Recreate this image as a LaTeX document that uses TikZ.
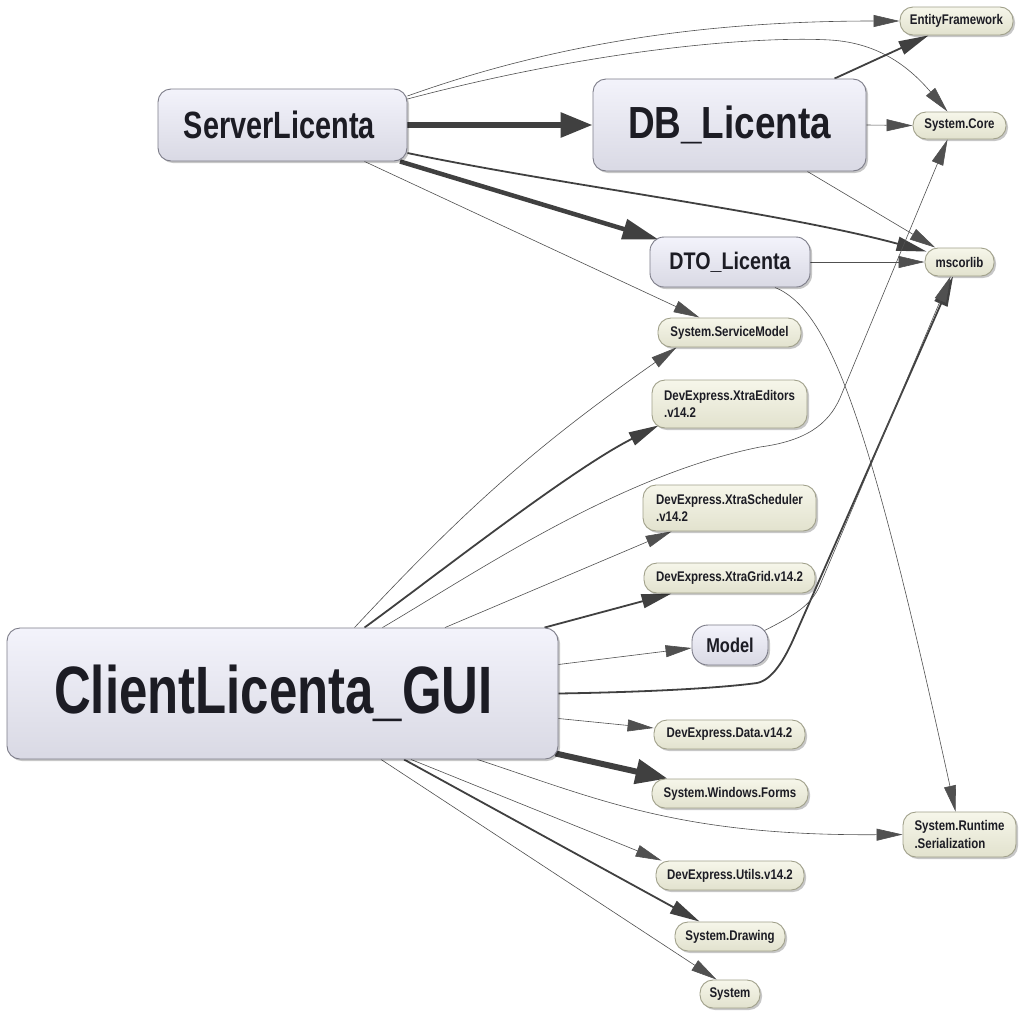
\documentclass[tikz,border=0pt]{standalone}
\usepackage{fontspec}
\newfontfamily\nf[FakeStretch=0.82]{Liberation Sans}
\newfontfamily\nnf[FakeStretch=0.76]{Liberation Sans}
\usetikzlibrary{arrows.meta,shadows,calc}
\pgfdeclarelayer{bg}
\pgfdeclarelayer{back}
\pgfsetlayers{back,bg,main}
\definecolor{bigtop}{HTML}{F3F3FB}
\definecolor{bigbot}{HTML}{D9D9E4}
\definecolor{bigborder}{HTML}{7C7C88}
\definecolor{smtop}{HTML}{F6F6EA}
\definecolor{smbot}{HTML}{E2E2CE}
\definecolor{smborder}{HTML}{A0A08A}
\definecolor{txt}{HTML}{1C1C24}
\definecolor{edge}{HTML}{404040}
\definecolor{thinedge}{HTML}{505050}
\tikzset{
  shad/.style={drop shadow={shadow xshift=2pt,shadow yshift=-2pt,opacity=0.22,fill=black}},
  big/.style={shad,draw=bigborder,line width=0.9pt,rounded corners=13pt,top color=bigtop,bottom color=bigbot,inner sep=0pt,text=txt},
  small/.style={shad,draw=smborder,line width=0.9pt,rounded corners=13pt,top color=smtop,bottom color=smbot,inner sep=0pt,text=txt,align=left,font=\nf\bfseries\fontsize{14}{17.5}\selectfont},
  thinE/.style={draw=thinedge,line width=0.6pt,-{Triangle[length=26pt,width=12pt]}},
  medE/.style={draw=edge,line width=1.8pt,-{Triangle[length=30pt,width=14pt]}},
  thickE/.style={draw=edge,line width=4.5pt,-{Triangle[length=36pt,width=20pt]}},
  vthickE/.style={draw=edge,line width=6pt,-{Triangle[length=32pt,width=24pt]}},
}
\begin{document}
\begin{tikzpicture}[x=1pt,y=1pt]
\begin{pgfonlayer}{back}
\fill[white] (0,0) rectangle (1024,-1015);
\end{pgfonlayer}
\useasboundingbox (0,0) rectangle (1024,-1015);

% big nodes
\node[big,minimum width=249pt,minimum height=72pt,font=\nnf\bfseries\fontsize{38}{42}\selectfont] (S) at (282.5,-125) {\hspace*{-6pt}ServerLicenta};
\node[big,minimum width=273pt,minimum height=92pt,font=\nf\bfseries\fontsize{45}{50}\selectfont] (DB) at (729.5,-125) {DB\_Licenta};
\node[big,minimum width=160pt,minimum height=50pt,rounded corners=14pt,font=\nf\bfseries\fontsize{24}{28}\selectfont] (DTO) at (730,-262) {DTO\_Licenta};
\node[big,minimum width=551pt,minimum height=131pt,font=\nnf\bfseries\fontsize{67}{75}\selectfont] (C) at (282.5,-693.5) {\hspace*{-18pt}ClientLicenta\_GUI};
\node[big,minimum width=76pt,minimum height=40pt,rounded corners=16pt,font=\nf\bfseries\fontsize{20}{24}\selectfont] (Model) at (730,-645) {Model};

% small nodes
\node[small,minimum width=113pt,minimum height=28pt] (EF) at (956.5,-21) {EntityFramework};
\node[small,minimum width=93pt,minimum height=27pt] (SC) at (959.5,-125.5) {System.Core};
\node[small,minimum width=69pt,minimum height=28pt] (MS) at (959.5,-262) {mscorlib};
\node[small,minimum width=143pt,minimum height=29pt] (SSM) at (729.5,-332.5) {System.ServiceModel};
\node[small,minimum width=155pt,minimum height=48pt] (XE) at (729.5,-404) {DevExpress.XtraEditors\\.v14.2};
\node[small,minimum width=173pt,minimum height=46pt] (XS) at (729.5,-508) {DevExpress.XtraScheduler\\.v14.2};
\node[small,minimum width=171pt,minimum height=30pt] (XG) at (729.5,-578) {DevExpress.XtraGrid.v14.2};
\node[small,minimum width=151pt,minimum height=29pt] (DD) at (729.5,-734.5) {DevExpress.Data.v14.2};
\node[small,minimum width=156pt,minimum height=29pt] (SWF) at (730,-793.5) {System.Windows.Forms};
\node[small,minimum width=113pt,minimum height=45pt] (SRS) at (959.5,-834.5) {System.Runtime\\.Serialization};
\node[small,minimum width=148pt,minimum height=29pt] (DU) at (730,-875.5) {DevExpress.Utils.v14.2};
\node[small,minimum width=110pt,minimum height=29pt] (SD) at (730,-936.5) {System.Drawing};
\node[small,minimum width=60pt,minimum height=28pt] (SYS) at (730,-994) {System};

\begin{pgfonlayer}{bg}
% ServerLicenta
\draw[thinE] ([yshift=29pt]S.east) .. controls (550,-45) and (700,-21) .. (EF.west);
\draw[thinE] ([yshift=26pt]S.east) .. controls (600,-48) and (760,-36) .. (830,-40) .. controls (880,-43) and (910,-68) .. ([xshift=-12pt]SC.north);
\draw[vthickE] (S.east) -- (DB.west);
\draw[thickE] ([xshift=117.5pt]S.south) -- ([shift={(9pt,-3pt)}]DTO.north west);
\draw[medE] ([yshift=-28pt]S.east) .. controls (560,-185) and (780,-212) .. ([shift={(2pt,-4pt)}]MS.north west);
\draw[thinE] ([xshift=82pt]S.south) -- ([xshift=-30pt]SSM.north);
% DB_Licenta
\draw[medE] ([xshift=105pt]DB.north) -- ([xshift=-28pt]EF.south);
\draw[thinE] (DB.east) -- (SC.west);
\draw[thinE] (DB) -- (MS);
% DTO_Licenta
\draw[thinE] (DTO.east) -- (MS.west);
\draw[thinE] ([xshift=45pt]DTO.south) .. controls (830,-310) and (870,-420) .. ([xshift=-4pt]SRS.north);
% ClientLicenta_GUI
\draw[thinE] ([xshift=72pt]C.north) to[bend left=6] ([xshift=-53pt]SSM.south);
\draw[medE] ([xshift=82pt]C.north) .. controls (430,-580) and (570,-470) .. ([shift={(7pt,3pt)}]XE.south west);
\draw[thinE] ([xshift=100pt]C.north) .. controls (480,-570) and (620,-475) .. (760,-447) .. controls (805,-441) and (828,-425) .. (840,-398) -- ([xshift=-12pt]SC.south);
\draw[thinE] ([xshift=162.5pt]C.north) -- ([xshift=29pt]XS.south west);
\draw[medE] ([xshift=262pt]C.north) -- ([xshift=28pt]XG.south west);
\draw[thinE] ([yshift=29pt]C.east) -- ([yshift=-3pt]Model.west);
\draw[medE] (C.east) .. controls (650,-692) and (720,-688) .. (757,-683) .. controls (772,-680) and (784,-660) .. (793,-640) -- ([xshift=-6.5pt]MS.south);
\draw[thinE] ([shift={(-4pt,-6pt)}]Model.north east) .. controls (795,-615) and (811.5,-605) .. (820,-585) -- ([xshift=-9pt]MS.south);
\draw[thinE] ([yshift=-25pt]C.east) -- ([yshift=6.5pt]DD.west);
\draw[vthickE] ([shift={(-3pt,6pt)}]C.south east) -- ([xshift=16pt]SWF.north west);
\draw[thinE] ([xshift=195pt]C.south) .. controls (600,-800) and (680,-836) .. (SRS.west);
\draw[thinE] ([xshift=128.5pt]C.south) -- ([xshift=6pt]DU.north west);
\draw[medE] ([xshift=121.5pt]C.south) -- ([xshift=25pt]SD.north west);
\draw[thinE] ([xshift=98.5pt]C.south) -- ([xshift=17pt]SYS.north west);
\end{pgfonlayer}
\end{tikzpicture}
\end{document}
